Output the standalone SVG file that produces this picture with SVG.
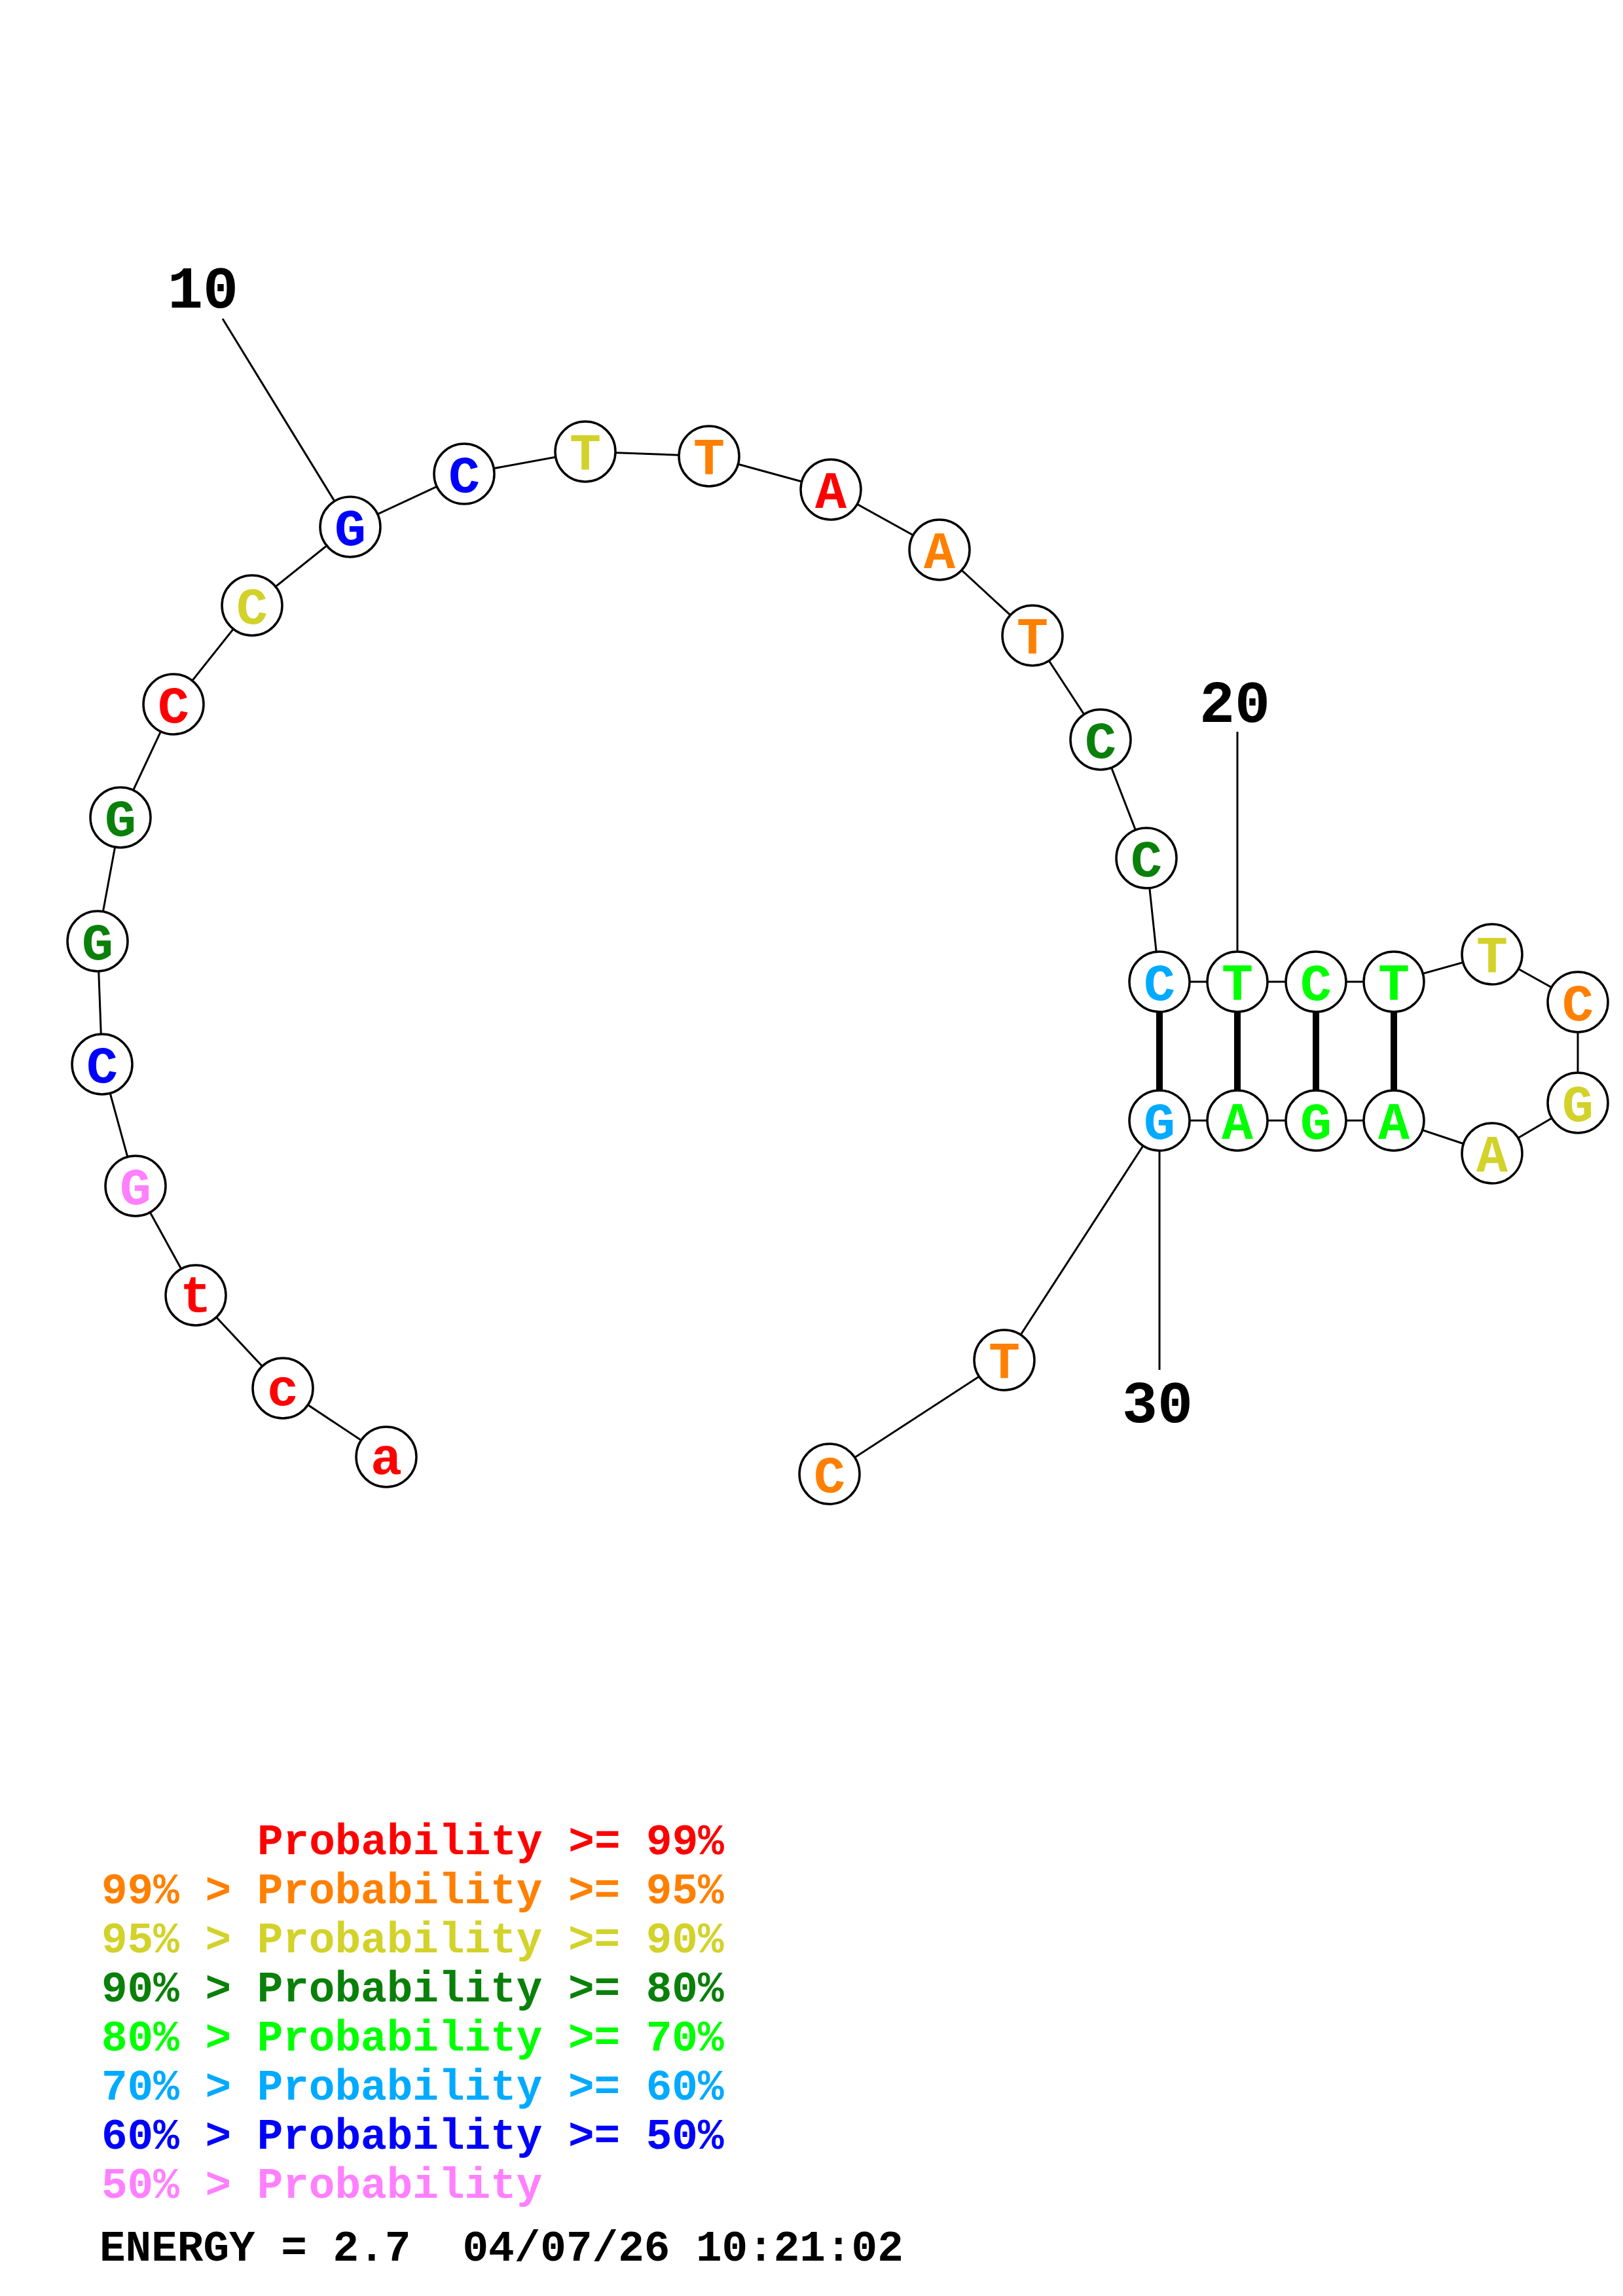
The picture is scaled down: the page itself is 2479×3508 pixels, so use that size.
<svg xmlns="http://www.w3.org/2000/svg" width="2479" height="3508" viewBox="0 0 2479 3508">
<style>
.bb{stroke:#000;stroke-width:3;fill:none}
.bp{stroke:#000;stroke-width:10;fill:none}
circle{fill:#fff;stroke:#000;stroke-width:3.5}
.n text{font-family:"Liberation Mono",monospace;font-weight:bold;font-size:80px;text-anchor:middle}
.num{font-family:"Liberation Mono",monospace;font-weight:bold;font-size:90px;text-anchor:middle;fill:#000}
.lg{font-family:"Liberation Mono",monospace;font-weight:bold;font-size:66px;white-space:pre}
.r{fill:#FF0000}.o{fill:#FF8000}.y{fill:#D2D22A}.dg{fill:#0A800A}.g{fill:#00FF00}.s{fill:#00AAFF}.b{fill:#0000FF}.p{fill:#FF80FF}.k{fill:#000}
</style>
<rect width="2479" height="3508" fill="#fff"/>
<g id="connectors">
<polyline class="bb" points="590,2226 432,2121 299,1979 207,1812 156,1626 149,1438 184,1249 265,1076 385,925 535,805 709,724 894,690 1083,697 1269,748 1435,840 1577,971 1681,1130 1751,1311 1771,1500 1890,1500 2010,1500 2129,1500 2279,1458 2410,1531 2410,1685 2279,1762 2129,1712 2010,1712 1890,1712 1771,1712 1534,2078 1267,2252"/>
<line class="bp" x1="1771" y1="1500" x2="1771" y2="1712"/>
<line class="bp" x1="1890" y1="1500" x2="1890" y2="1712"/>
<line class="bp" x1="2010" y1="1500" x2="2010" y2="1712"/>
<line class="bp" x1="2129" y1="1500" x2="2129" y2="1712"/>
<line class="bb" x1="340" y1="487" x2="535" y2="805"/>
<line class="bb" x1="1890" y1="1118" x2="1890" y2="1500"/>
<line class="bb" x1="1771" y1="1712" x2="1771" y2="2093"/>
</g>
<g id="labels">
<text class="num" x="310" y="470">10</text>
<text class="num" x="1886" y="1103">20</text>
<text class="num" x="1768" y="2173">30</text>
</g>
<g class="n" id="n1"><circle cx="590" cy="2226" r="46"/><text class="r" x="590" y="2252">a</text></g>
<g class="n" id="n2"><circle cx="432" cy="2121" r="46"/><text class="r" x="432" y="2147">c</text></g>
<g class="n" id="n3"><circle cx="299" cy="1979" r="46"/><text class="r" x="299" y="2005">t</text></g>
<g class="n" id="n4"><circle cx="207" cy="1812" r="46"/><text class="p" x="207" y="1840">G</text></g>
<g class="n" id="n5"><circle cx="156" cy="1626" r="46"/><text class="b" x="156" y="1654">C</text></g>
<g class="n" id="n6"><circle cx="149" cy="1438" r="46"/><text class="dg" x="149" y="1466">G</text></g>
<g class="n" id="n7"><circle cx="184" cy="1249" r="46"/><text class="dg" x="184" y="1277">G</text></g>
<g class="n" id="n8"><circle cx="265" cy="1076" r="46"/><text class="r" x="265" y="1104">C</text></g>
<g class="n" id="n9"><circle cx="385" cy="925" r="46"/><text class="y" x="385" y="953">C</text></g>
<g class="n" id="n10"><circle cx="535" cy="805" r="46"/><text class="b" x="535" y="833">G</text></g>
<g class="n" id="n11"><circle cx="709" cy="724" r="46"/><text class="b" x="709" y="752">C</text></g>
<g class="n" id="n12"><circle cx="894" cy="690" r="46"/><text class="y" x="894" y="718">T</text></g>
<g class="n" id="n13"><circle cx="1083" cy="697" r="46"/><text class="o" x="1083" y="725">T</text></g>
<g class="n" id="n14"><circle cx="1269" cy="748" r="46"/><text class="r" x="1269" y="776">A</text></g>
<g class="n" id="n15"><circle cx="1435" cy="840" r="46"/><text class="o" x="1435" y="868">A</text></g>
<g class="n" id="n16"><circle cx="1577" cy="971" r="46"/><text class="o" x="1577" y="999">T</text></g>
<g class="n" id="n17"><circle cx="1681" cy="1130" r="46"/><text class="dg" x="1681" y="1158">C</text></g>
<g class="n" id="n18"><circle cx="1751" cy="1311" r="46"/><text class="dg" x="1751" y="1339">C</text></g>
<g class="n" id="n19"><circle cx="1771" cy="1500" r="46"/><text class="s" x="1771" y="1528">C</text></g>
<g class="n" id="n20"><circle cx="1890" cy="1500" r="46"/><text class="g" x="1890" y="1528">T</text></g>
<g class="n" id="n21"><circle cx="2010" cy="1500" r="46"/><text class="g" x="2010" y="1528">C</text></g>
<g class="n" id="n22"><circle cx="2129" cy="1500" r="46"/><text class="g" x="2129" y="1528">T</text></g>
<g class="n" id="n23"><circle cx="2279" cy="1458" r="46"/><text class="y" x="2279" y="1486">T</text></g>
<g class="n" id="n24"><circle cx="2410" cy="1531" r="46"/><text class="o" x="2410" y="1559">C</text></g>
<g class="n" id="n25"><circle cx="2410" cy="1685" r="46"/><text class="y" x="2410" y="1713">G</text></g>
<g class="n" id="n26"><circle cx="2279" cy="1762" r="46"/><text class="y" x="2279" y="1790">A</text></g>
<g class="n" id="n27"><circle cx="2129" cy="1712" r="46"/><text class="g" x="2129" y="1740">A</text></g>
<g class="n" id="n28"><circle cx="2010" cy="1712" r="46"/><text class="g" x="2010" y="1740">G</text></g>
<g class="n" id="n29"><circle cx="1890" cy="1712" r="46"/><text class="g" x="1890" y="1740">A</text></g>
<g class="n" id="n30"><circle cx="1771" cy="1712" r="46"/><text class="s" x="1771" y="1740">G</text></g>
<g class="n" id="n31"><circle cx="1534" cy="2078" r="46"/><text class="o" x="1534" y="2106">T</text></g>
<g class="n" id="n32"><circle cx="1267" cy="2252" r="46"/><text class="o" x="1267" y="2280">C</text></g>
<g id="legend">
<text class="lg r" x="393" y="2833">Probability &gt;= 99%</text>
<text class="lg o" x="155" y="2908">99% &gt; Probability &gt;= 95%</text>
<text class="lg y" x="155" y="2983">95% &gt; Probability &gt;= 90%</text>
<text class="lg dg" x="155" y="3058">90% &gt; Probability &gt;= 80%</text>
<text class="lg g" x="155" y="3133">80% &gt; Probability &gt;= 70%</text>
<text class="lg s" x="155" y="3208">70% &gt; Probability &gt;= 60%</text>
<text class="lg b" x="155" y="3283">60% &gt; Probability &gt;= 50%</text>
<text class="lg p" x="155" y="3358">50% &gt; Probability</text>
<text class="lg k" x="152" y="3454">ENERGY = 2.7  04/07/26 10:21:02</text>
</g>
</svg>
